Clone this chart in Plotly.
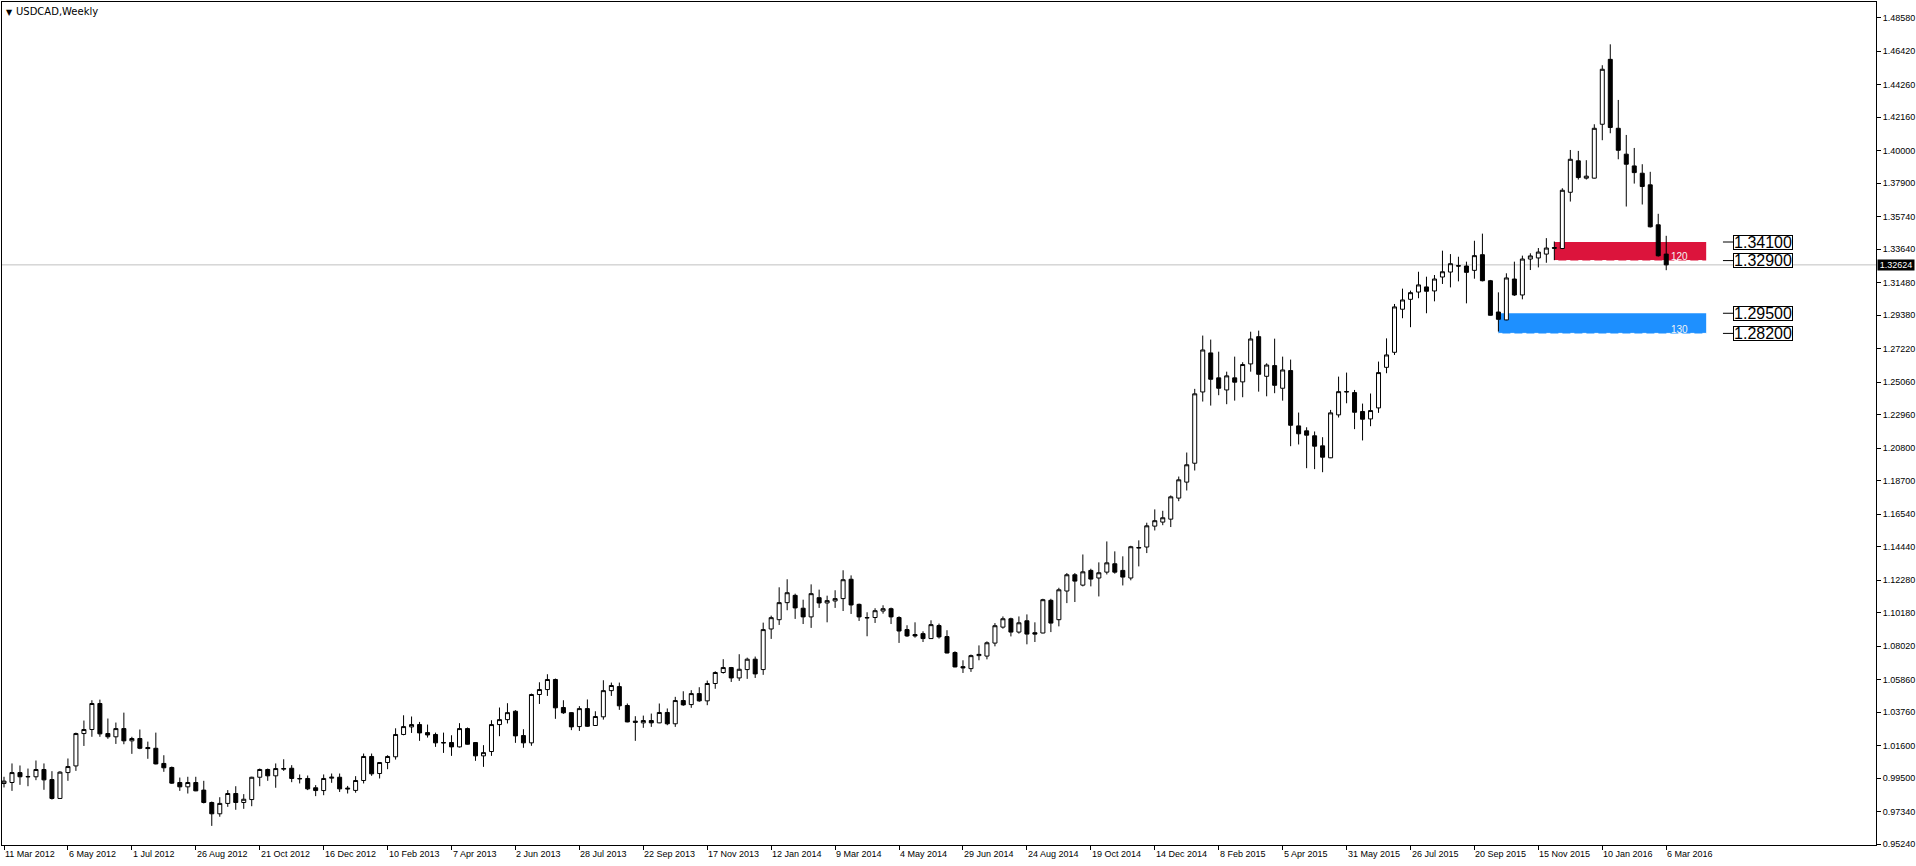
import plotly.graph_objects as go
import pandas as pd

# ---------------- data ----------------
first_week = "2012-03-11"

opens = [0.9915, 0.9921, 0.9985, 0.9960, 0.9958, 1.0005, 0.9940, 0.9818, 0.9985, 1.0028,
         1.0237, 1.0263, 1.0431, 1.0237, 1.0216, 1.0269, 1.0190, 1.0205, 1.0147, 1.0142,
         1.0044, 1.0018, 0.9921, 0.9893, 0.9921, 0.9872, 0.9792, 0.9719, 0.9786, 0.9850,
         0.9792, 0.9811, 0.9955, 1.0005, 0.9964, 1.0007, 1.0013, 0.9947, 0.9947, 0.9887,
         0.9869, 0.9949, 0.9955, 0.9885, 0.9870, 0.9934, 1.0089, 0.9979, 1.0050, 1.0087,
         1.0231, 1.0280, 1.0295, 1.0243, 1.0231, 1.0179, 1.0179, 1.0151, 1.0269, 1.0179,
         1.0093, 1.0121, 1.0295, 1.0327, 1.0381, 1.0224, 1.0177, 1.0489, 1.0521, 1.0586,
         1.0405, 1.0372, 1.0282, 1.0398, 1.0289, 1.0345, 1.0514, 1.0540, 1.0418, 1.0317,
         1.0306, 1.0321, 1.0306, 1.0373, 1.0300, 1.0450, 1.0424, 1.0495, 1.0448, 1.0560,
         1.0631, 1.0663, 1.0596, 1.0650, 1.0717, 1.0650, 1.0912, 1.0972, 1.1082, 1.1129,
         1.1046, 1.0990, 1.1114, 1.1080, 1.1093, 1.1108, 1.1233, 1.1071, 1.0986, 1.0986,
         1.1028, 1.1043, 1.0986, 1.0908, 1.0876, 1.0882, 1.0850, 1.0934, 1.0863, 1.0760,
         1.0669, 1.0656, 1.0740, 1.0737, 1.0821, 1.0924, 1.0978, 1.0892, 1.0965, 1.0888,
         1.0886, 1.1097, 1.0972, 1.1157, 1.1262, 1.1195, 1.1290, 1.1241, 1.1279, 1.1333,
         1.1290, 1.1241, 1.1434, 1.1441, 1.1576, 1.1602, 1.1621, 1.1757, 1.1860, 1.1982,
         1.2442, 1.2694, 1.2533, 1.2455, 1.2533, 1.2507, 1.2623, 1.2799, 1.2543, 1.2612,
         1.2466, 1.2580, 1.2223, 1.2191, 1.2159, 1.2094, 1.2017, 1.2294, 1.2442, 1.2438,
         1.2316, 1.2268, 1.2339, 1.2601, 1.2698, 1.2976, 1.3040, 1.3087, 1.3120, 1.3094,
         1.3184, 1.3216, 1.3257, 1.3255, 1.3227, 1.3328, 1.3160, 1.2958, 1.2907, 1.3171,
         1.3068, 1.3300, 1.3307, 1.3332, 1.3374, 1.3368, 1.3731, 1.3934, 1.3822, 1.3822,
         1.4170, 1.4589, 1.4144, 1.3977, 1.3901, 1.3854, 1.3779, 1.3521, 1.3332]

highs = [0.9958, 1.0044, 1.0031, 1.0011, 1.0063, 1.0044, 0.9994, 0.9994, 1.0076, 1.0243,
         1.0321, 1.0452, 1.0456, 1.0334, 1.0308, 1.0372, 1.0216, 1.0263, 1.0185, 1.0243,
         1.0097, 1.0024, 0.9953, 0.9958, 0.9958, 0.9932, 0.9798, 0.9826, 0.9872, 0.9897,
         0.9846, 0.9958, 1.0011, 1.0011, 1.0044, 1.0071, 1.0033, 0.9973, 0.9966, 0.9904,
         0.9973, 0.9979, 0.9979, 0.9899, 0.9962, 1.0108, 1.0108, 1.0052, 1.0097, 1.0271,
         1.0355, 1.0347, 1.0312, 1.0295, 1.0243, 1.0243, 1.0226, 1.0304, 1.0276, 1.0182,
         1.0162, 1.0323, 1.0405, 1.0433, 1.0388, 1.0265, 1.0495, 1.0568, 1.0620, 1.0592,
         1.0452, 1.0375, 1.0414, 1.0457, 1.0381, 1.0581, 1.0566, 1.0566, 1.0431, 1.0349,
         1.0353, 1.0366, 1.0431, 1.0399, 1.0474, 1.0510, 1.0517, 1.0536, 1.0579, 1.0639,
         1.0717, 1.0667, 1.0749, 1.0727, 1.0734, 1.0953, 1.0998, 1.1181, 1.1233, 1.1140,
         1.1101, 1.1200, 1.1166, 1.1127, 1.1162, 1.1291, 1.1258, 1.1076, 1.1020, 1.1046,
         1.1065, 1.1050, 1.0994, 1.0936, 1.0955, 1.0897, 1.0968, 1.0947, 1.0904, 1.0768,
         1.0710, 1.0747, 1.0806, 1.0832, 1.0950, 1.0993, 1.0985, 1.0993, 1.1006, 1.0955,
         1.1107, 1.1107, 1.1178, 1.1273, 1.1273, 1.1393, 1.1301, 1.1342, 1.1477, 1.1413,
         1.1381, 1.1449, 1.1484, 1.1598, 1.1684, 1.1675, 1.1774, 1.1896, 1.2051, 1.2462,
         1.2806, 1.2780, 1.2702, 1.2573, 1.2670, 1.2634, 1.2831, 1.2838, 1.2627, 1.2786,
         1.2670, 1.2651, 1.2309, 1.2214, 1.2187, 1.2150, 1.2326, 1.2541, 1.2567, 1.2455,
         1.2367, 1.2432, 1.2638, 1.2788, 1.3010, 1.3109, 1.3096, 1.3218, 1.3186, 1.3197,
         1.3354, 1.3332, 1.3315, 1.3283, 1.3418, 1.3464, 1.3165, 1.3085, 1.3208, 1.3283,
         1.3322, 1.3337, 1.3371, 1.3435, 1.3413, 1.3757, 1.4004, 1.3998, 1.3938, 1.4170,
         1.4551, 1.4686, 1.4327, 1.4101, 1.4017, 1.3912, 1.3863, 1.3592, 1.3450]

lows = [0.9889, 0.9867, 0.9906, 0.9897, 0.9936, 0.9874, 0.9811, 0.9815, 0.9932, 0.9996,
        1.0157, 1.0216, 1.0216, 1.0203, 1.0170, 1.0168, 1.0106, 1.0136, 1.0074, 1.0038,
        0.9990, 0.9912, 0.9867, 0.9850, 0.9865, 0.9786, 0.9641, 0.9700, 0.9764, 0.9745,
        0.9751, 0.9768, 0.9897, 0.9932, 0.9887, 0.9996, 0.9923, 0.9915, 0.9872, 0.9833,
        0.9839, 0.9919, 0.9860, 0.9850, 0.9855, 0.9915, 0.9964, 0.9947, 1.0007, 1.0069,
        1.0226, 1.0241, 1.0190, 1.0211, 1.0151, 1.0112, 1.0093, 1.0147, 1.0166, 1.0061,
        1.0022, 1.0093, 1.0220, 1.0302, 1.0177, 1.0145, 1.0158, 1.0428, 1.0480, 1.0332,
        1.0364, 1.0259, 1.0254, 1.0280, 1.0287, 1.0327, 1.0480, 1.0390, 1.0310, 1.0190,
        1.0274, 1.0280, 1.0304, 1.0291, 1.0280, 1.0416, 1.0403, 1.0442, 1.0420, 1.0526,
        1.0624, 1.0570, 1.0577, 1.0590, 1.0596, 1.0616, 1.0848, 1.0938, 1.1033, 1.0977,
        1.0944, 1.0919, 1.1048, 1.0955, 1.1048, 1.1028, 1.1009, 1.0964, 1.0865, 1.0951,
        1.1011, 1.0944, 1.0822, 1.0861, 1.0856, 1.0828, 1.0848, 1.0850, 1.0755, 1.0665,
        1.0628, 1.0635, 1.0710, 1.0716, 1.0800, 1.0914, 1.0864, 1.0882, 1.0813, 1.0828,
        1.0884, 1.0892, 1.0929, 1.1079, 1.1086, 1.1187, 1.1187, 1.1122, 1.1264, 1.1269,
        1.1193, 1.1226, 1.1316, 1.1402, 1.1548, 1.1582, 1.1570, 1.1737, 1.1806, 1.1935,
        1.2380, 1.2354, 1.2421, 1.2363, 1.2386, 1.2408, 1.2573, 1.2444, 1.2414, 1.2434,
        1.2386, 1.2092, 1.2103, 1.1950, 1.1944, 1.1924, 1.2015, 1.2277, 1.2369, 1.2202,
        1.2129, 1.2221, 1.2307, 1.2563, 1.2681, 1.2918, 1.2860, 1.3047, 1.2950, 1.3027,
        1.3139, 1.3117, 1.3156, 1.3014, 1.3173, 1.3156, 1.2935, 1.2832, 1.2905, 1.3062,
        1.3040, 1.3229, 1.3246, 1.3276, 1.3293, 1.3364, 1.3671, 1.3813, 1.3813, 1.3820,
        1.4067, 1.4112, 1.3944, 1.3639, 1.3787, 1.3652, 1.3504, 1.3316, 1.3228]

closes = [0.9930, 0.9985, 0.9958, 0.9958, 1.0005, 0.9938, 0.9818, 0.9988, 1.0024, 1.0237,
          1.0263, 1.0431, 1.0235, 1.0216, 1.0269, 1.0190, 1.0205, 1.0142, 1.0140, 1.0041,
          1.0016, 0.9917, 0.9893, 0.9921, 0.9867, 0.9792, 0.9719, 0.9786, 0.9850, 0.9792,
          0.9813, 0.9955, 1.0005, 0.9964, 1.0011, 1.0011, 0.9947, 0.9945, 0.9880, 0.9869,
          0.9947, 0.9955, 0.9880, 0.9880, 0.9934, 1.0089, 0.9977, 1.0050, 1.0089, 1.0231,
          1.0282, 1.0295, 1.0241, 1.0228, 1.0177, 1.0177, 1.0151, 1.0269, 1.0168, 1.0093,
          1.0114, 1.0295, 1.0327, 1.0372, 1.0222, 1.0177, 1.0489, 1.0521, 1.0586, 1.0403,
          1.0371, 1.0280, 1.0398, 1.0284, 1.0347, 1.0514, 1.0547, 1.0416, 1.0312, 1.0310,
          1.0321, 1.0306, 1.0373, 1.0300, 1.0450, 1.0422, 1.0495, 1.0448, 1.0560, 1.0631,
          1.0663, 1.0596, 1.0652, 1.0717, 1.0622, 1.0908, 1.0985, 1.1082, 1.1146, 1.1048,
          1.0990, 1.1140, 1.1080, 1.1095, 1.1108, 1.1230, 1.1067, 1.0990, 1.0984, 1.1030,
          1.1043, 1.0990, 1.0899, 1.0867, 1.0867, 1.0850, 1.0940, 1.0861, 1.0757, 1.0667,
          1.0661, 1.0740, 1.0748, 1.0823, 1.0933, 1.0978, 1.0892, 1.0952, 1.0879, 1.0879,
          1.1101, 1.0950, 1.1165, 1.1262, 1.1221, 1.1281, 1.1234, 1.1275, 1.1339, 1.1279,
          1.1247, 1.1443, 1.1438, 1.1578, 1.1611, 1.1630, 1.1765, 1.1875, 1.1972, 1.2430,
          1.2713, 1.2524, 1.2466, 1.2546, 1.2505, 1.2619, 1.2784, 1.2556, 1.2616, 1.2485,
          1.2584, 1.2227, 1.2172, 1.2163, 1.2092, 1.2021, 1.2307, 1.2444, 1.2444, 1.2311,
          1.2266, 1.2322, 1.2567, 1.2681, 1.2991, 1.3036, 1.3083, 1.3133, 1.3092, 1.3171,
          1.3218, 1.3270, 1.3255, 1.3214, 1.3322, 1.3160, 1.2937, 1.2911, 1.3178, 1.3068,
          1.3300, 1.3320, 1.3345, 1.3371, 1.3370, 1.3744, 1.3944, 1.3826, 1.3835, 1.4144,
          1.4525, 1.4149, 1.4002, 1.3912, 1.3858, 1.3768, 1.3508, 1.3321, 1.32624]

price_ticks = [1.48580, 1.46420, 1.44260, 1.42160, 1.40000, 1.37900, 1.35740, 1.33640,
               1.31480, 1.29380, 1.27220, 1.25060, 1.22960, 1.20800, 1.18700, 1.16540,
               1.14440, 1.12280, 1.10180, 1.08020, 1.05860, 1.03760, 1.01600, 0.99500,
               0.97340, 0.95240]

bid_price = 1.32624

red_zone = [1.32900, 1.34100]      # low, high
red_zone_start = "2015-11-29"
blue_zone = [1.28200, 1.29500]
blue_zone_start = "2015-10-11"
zone_end = "2016-04-10"

title_text = "USDCAD,Weekly"

# ---------------- build ----------------
n = len(opens)
dates = pd.date_range(first_week, periods=n, freq="7D")
xi = list(range(n))
t0 = pd.Timestamp(first_week)


def week_index(d):
    return (pd.Timestamp(d) - t0).days / 7.0


font_family = "Liberation Sans"

fig = go.Figure(go.Candlestick(
    x=xi, open=opens, high=highs, low=lows, close=closes,
    increasing=dict(line=dict(color="black", width=1), fillcolor="white"),
    decreasing=dict(line=dict(color="black", width=1), fillcolor="black"),
    whiskerwidth=0, hoverinfo="skip", showlegend=False,
))

shapes = []
annotations = []

zone_end_i = week_index(zone_end)
for lohi, start, color in [(red_zone, red_zone_start, "#DC143C"),
                           (blue_zone, blue_zone_start, "#1E90FF")]:
    x0 = week_index(start)
    shapes.append(dict(type="rect", xref="x", yref="y", x0=x0, x1=zone_end_i,
                       y0=lohi[0], y1=lohi[1], fillcolor=color,
                       line=dict(width=0), layer="below"))
    shapes.append(dict(type="line", xref="x", yref="y", x0=x0, x1=zone_end_i,
                       y0=lohi[0], y1=lohi[0],
                       line=dict(color="white", width=1, dash="4px,8px"),
                       layer="below"))
    pips = round((lohi[1] - lohi[0]) * 10000)
    annotations.append(dict(xref="x", yref="y", x=zone_end_i - 2.0, y=lohi[0],
                            text=str(pips), showarrow=False, xanchor="right",
                            yanchor="middle", yshift=4,
                            font=dict(family=font_family, size=10, color="#F4F4F4")))
    for v in lohi:
        shapes.append(dict(type="line", xref="x", yref="y",
                           x0=zone_end_i + 2.1, x1=zone_end_i + 3.4, y0=v, y1=v,
                           line=dict(color="black", width=1)))
        annotations.append(dict(xref="x", yref="y", x=zone_end_i + 3.4, y=v,
                                text=f"{v:.5f}", showarrow=False, xanchor="left",
                                yanchor="middle", bgcolor="white",
                                bordercolor="black", borderwidth=1, borderpad=0,
                                width=58, height=13,
                                font=dict(family=font_family, size=16, color="black")))

# bid line
shapes.append(dict(type="line", xref="paper", yref="y", x0=0, x1=1,
                   y0=bid_price, y1=bid_price,
                   line=dict(color="#C0C0C0", width=1), layer="below"))
annotations.append(dict(xref="paper", yref="y", x=1, y=bid_price, xanchor="left",
                        yanchor="middle", xshift=1, text=f"{bid_price:.5f}",
                        showarrow=False, bgcolor="black", borderpad=0,
                        width=36, height=10,
                        font=dict(family=font_family, size=9, color="white")))

# date labels (left aligned at tick, MT4 style)
tick_idx = xi[::8]
for i in tick_idx:
    d = dates[i]
    annotations.append(dict(xref="x", yref="paper", x=i, y=0, xanchor="left",
                            yanchor="top", yshift=-2, xshift=-1, showarrow=False,
                            text=f"{d.day} {d.strftime('%b %Y')}",
                            font=dict(family=font_family, size=9, color="black")))

# title
annotations.append(dict(xref="paper", yref="paper", x=0, y=1, xanchor="left",
                        yanchor="top", xshift=2, yshift=-4, showarrow=False,
                        text="▼",
                        font=dict(family="DejaVu Sans", size=8, color="black")))
annotations.append(dict(xref="paper", yref="paper", x=0, y=1, xanchor="left",
                        yanchor="top", xshift=12, yshift=-2, showarrow=False,
                        text=title_text,
                        font=dict(family="DejaVu Sans", size=10, color="black")))

fig.update_layout(
    width=1916, height=866,
    margin=dict(l=1, r=39, t=1, b=21),
    paper_bgcolor="white", plot_bgcolor="white",
    boxgap=0.5, boxgroupgap=0,
    showlegend=False,
    xaxis=dict(range=[-0.25, 234.25], rangeslider=dict(visible=False),
               showgrid=False, zeroline=False, showline=True, linecolor="black",
               linewidth=1, mirror=True, ticks="outside", ticklen=4,
               tickcolor="black", tickvals=tick_idx, showticklabels=False,
               fixedrange=True),
    yaxis=dict(range=[0.95176, 1.49592], side="right", showgrid=False,
               zeroline=False, showline=True, linecolor="black", linewidth=1,
               mirror=True, ticks="outside", ticklen=4, tickcolor="black",
               tickvals=price_ticks, ticktext=[f"{v:.5f}" for v in price_ticks],
               tickfont=dict(family=font_family, size=9, color="black"),
               fixedrange=True),
    shapes=shapes,
    annotations=annotations,
)

fig.write_html("out.html", post_script="document.body.style.margin='0';",
               config={"displayModeBar": False})
